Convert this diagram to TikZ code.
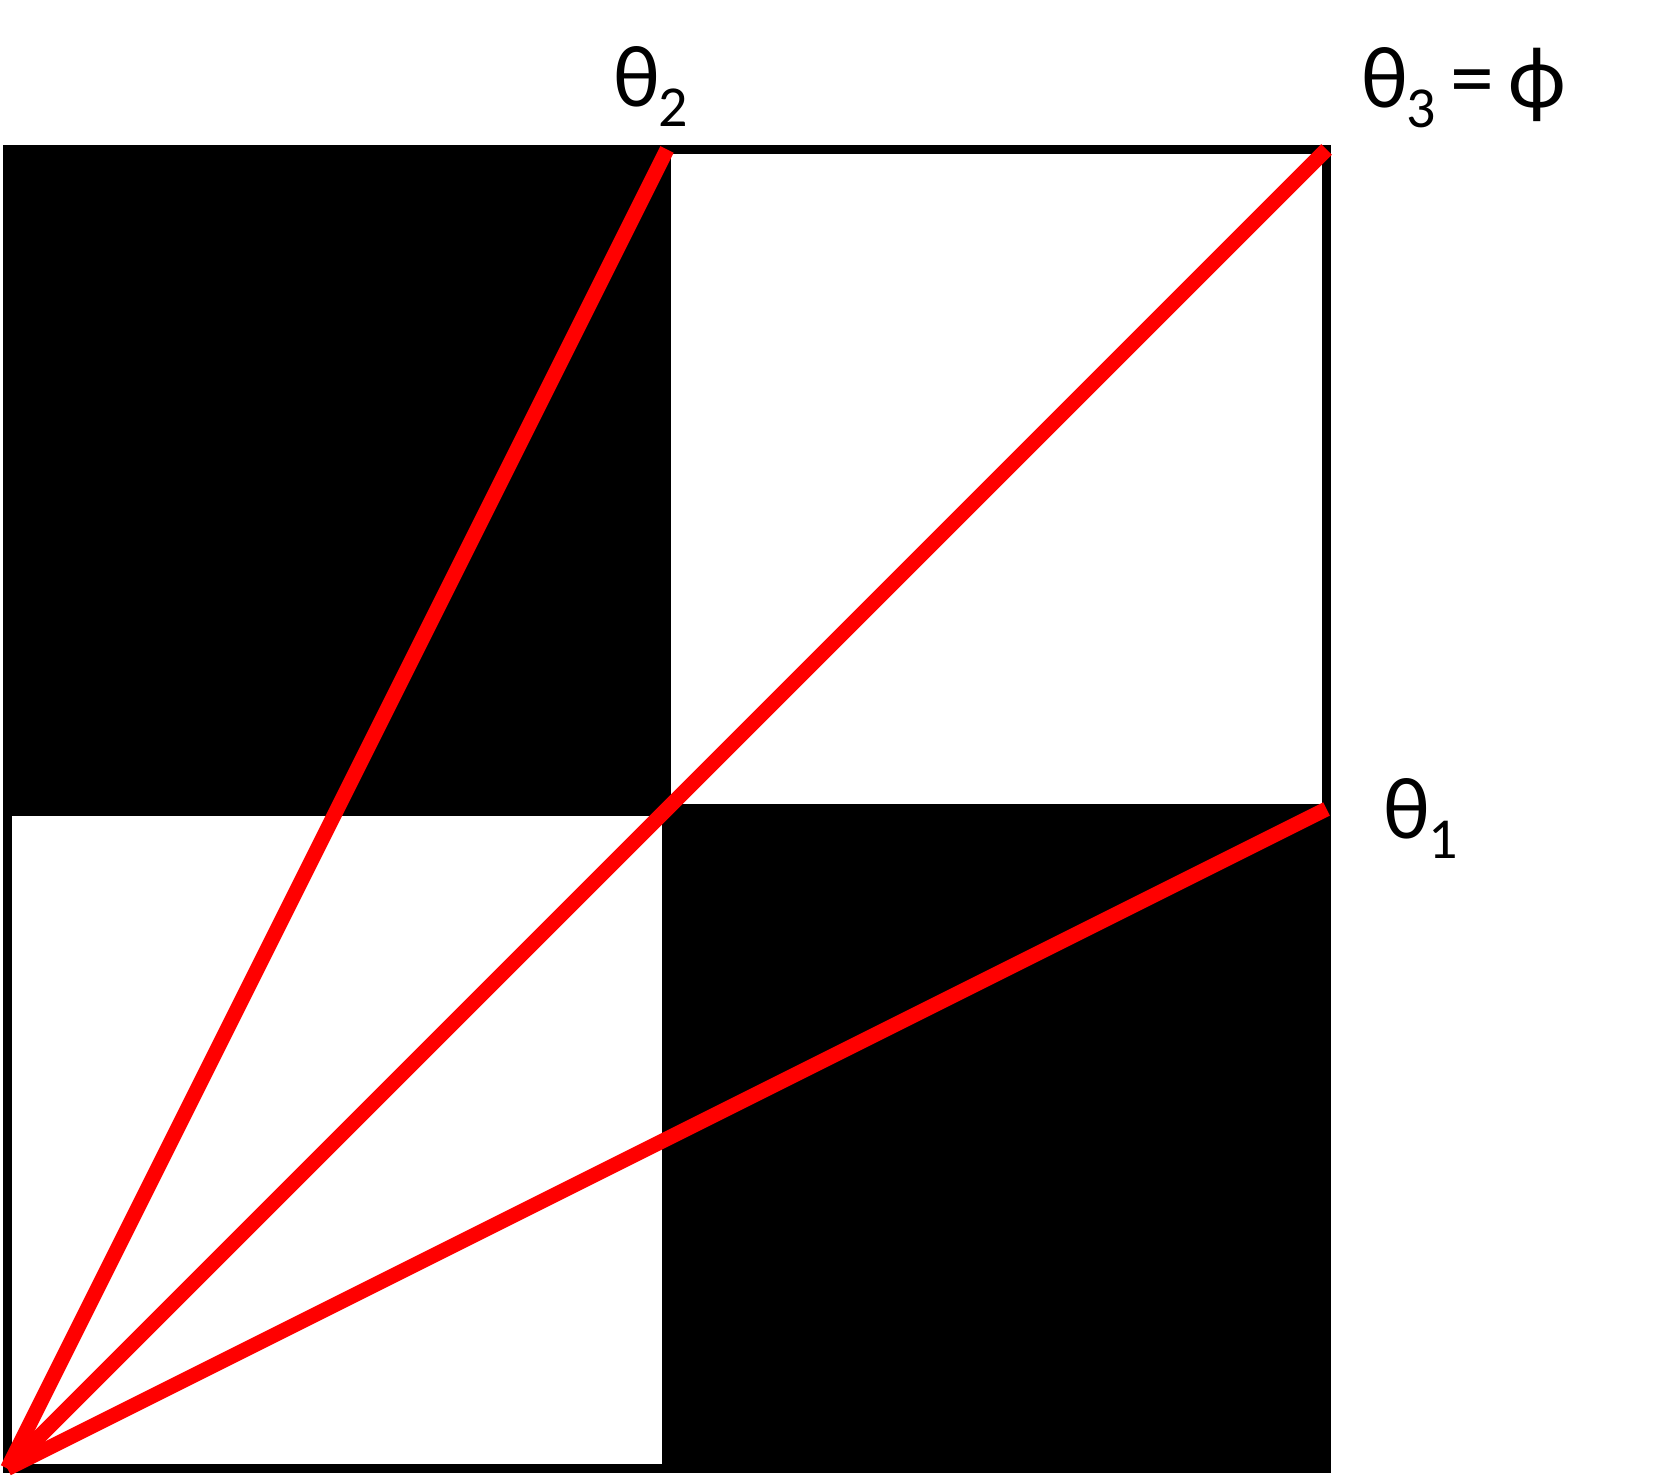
\documentclass[tikz,border=0pt]{standalone}
\usepackage{fontspec}
\setmainfont{Carlito}
\usetikzlibrary{calc}
% lowered index for the angle labels
\newcommand{\lowidx}[1]{{\kern-1pt\fontsize{33}{40}\selectfont\raisebox{-11pt}{#1}}}

\begin{document}
\begin{tikzpicture}[
    x=0.02cm, y=-0.02cm,
    % --- styles ---
    cell/.style={fill=black},
    frame/.style={draw=black, line width=5.5pt},
    ray/.style={draw=red, line width=8.5pt},
    angle/.style={anchor=base west, inner sep=0pt, font=\fontsize{50}{60}\selectfont}
]
\useasboundingbox (0,0) rectangle (1661,1479);

% --- corners of the square ---
\coordinate (BL) at (7.5,1468.5);
\coordinate (TR) at (1326.5,149.5);
\coordinate (M) at ($(BL)!0.5!(TR)$);

% --- checkerboard ---
\fill[cell] (3,145) rectangle (671,816);
\fill[cell] (662,804) rectangle (1331,1473);
\draw[frame] (BL) rectangle (TR);

% --- ray end points ---
\coordinate (T2) at (M |- TR);
\coordinate (T3) at (TR);
\coordinate (T1) at (TR |- M);

% --- rays ---
\draw[ray] (BL) -- (T1);
\draw[ray] (BL) -- (T3);
\draw[ray] (BL) -- (T2);

% --- labels ---
\node[angle] (L2) at (613,107) {θ\lowidx{2}};
\node[angle] (L3) at (1361,108) {θ\lowidx{3}\kern-3pt{} = \kern-3ptϕ};
\node[angle] (L1) at (1383,839) {θ\lowidx{1}};

\end{tikzpicture}
\end{document}
